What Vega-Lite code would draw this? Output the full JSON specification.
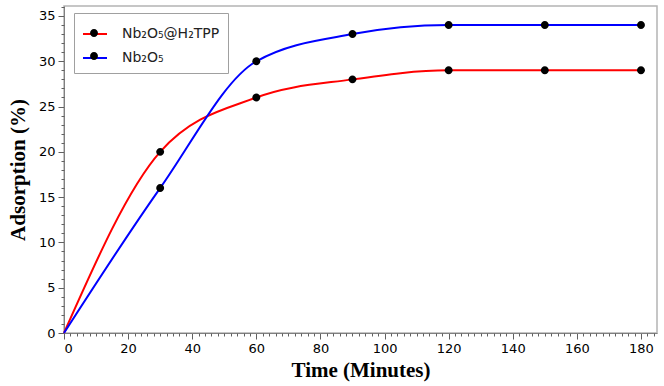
{
  "$schema": "https://vega.github.io/schema/vega-lite/v6.json",
  "width": 593,
  "height": 327,
  "autosize": {"type": "none"},
  "padding": {"left": 64, "top": 6, "right": 7, "bottom": 53},
  "background": "white",
  "config": {
    "view": {"stroke": "#b4b4b4", "strokeWidth": 1.5},
    "axis": {"grid": false, "ticks": true}
  },
  "data": {
    "values": [
      {"time": 0, "adsorption": 0, "series": "Nb₂O₅@H₂TPP"},
      {"time": 30, "adsorption": 20, "series": "Nb₂O₅@H₂TPP"},
      {"time": 60, "adsorption": 26, "series": "Nb₂O₅@H₂TPP"},
      {"time": 90, "adsorption": 28, "series": "Nb₂O₅@H₂TPP"},
      {"time": 120, "adsorption": 29, "series": "Nb₂O₅@H₂TPP"},
      {"time": 150, "adsorption": 29, "series": "Nb₂O₅@H₂TPP"},
      {"time": 180, "adsorption": 29, "series": "Nb₂O₅@H₂TPP"},
      {"time": 0, "adsorption": 0, "series": "Nb₂O₅"},
      {"time": 30, "adsorption": 16, "series": "Nb₂O₅"},
      {"time": 60, "adsorption": 30, "series": "Nb₂O₅"},
      {"time": 90, "adsorption": 33, "series": "Nb₂O₅"},
      {"time": 120, "adsorption": 34, "series": "Nb₂O₅"},
      {"time": 150, "adsorption": 34, "series": "Nb₂O₅"},
      {"time": 180, "adsorption": 34, "series": "Nb₂O₅"}
    ]
  },
  "resolve": {"axis": {"x": "independent", "y": "independent"}},
  "layer": [
    {
      "mark": {"type": "line", "interpolate": "monotone", "strokeWidth": 2},
      "encoding": {
        "x": {
          "field": "time",
          "type": "quantitative",
          "scale": {"domain": [0, 185], "nice": false},
          "axis": {
            "orient": "bottom",
            "title": "Time (Minutes)",
            "titleFont": "Liberation Serif",
            "titleFontWeight": "bold",
            "titleFontSize": 21,
            "titleColor": "black",
            "titlePadding": 4,
            "values": [0, 20, 40, 60, 80, 100, 120, 140, 160, 180],
            "ticks": true,
            "tickSize": 6,
            "tickWidth": 1,
            "tickColor": "#606060",
            "labelFont": "DejaVu Sans",
            "labelFontSize": 13,
            "labelColor": "black",
            "labelPadding": 3,
            "domainColor": "#808080"
          }
        },
        "y": {
          "field": "adsorption",
          "type": "quantitative",
          "scale": {"domain": [0, 36.1], "nice": false},
          "axis": {
            "orient": "left",
            "title": "Adsorption (%)",
            "titleFont": "Liberation Serif",
            "titleFontWeight": "bold",
            "titleFontSize": 21,
            "titleColor": "black",
            "titlePadding": 10,
            "values": [0, 5, 10, 15, 20, 25, 30, 35],
            "ticks": true,
            "tickSize": 6,
            "tickWidth": 1,
            "tickColor": "#606060",
            "labelFont": "DejaVu Sans",
            "labelFontSize": 13,
            "labelColor": "black",
            "labelPadding": 3,
            "domainColor": "#808080"
          }
        },
        "color": {
          "field": "series",
          "type": "nominal",
          "scale": {"domain": ["Nb₂O₅@H₂TPP", "Nb₂O₅"], "range": ["#ff0000", "#0000ff"]},
          "legend": {
            "orient": "none",
            "legendX": 10,
            "legendY": 7,
            "title": null,
            "symbolType": "stroke",
            "symbolSize": 576,
            "symbolStrokeWidth": 2,
            "labelFont": "DejaVu Sans",
            "labelFontSize": 14,
            "labelOffset": 14,
            "labelColor": "#222222",
            "padding": 8,
            "rowPadding": 4,
            "strokeColor": "#a0a0a0",
            "fillColor": "white"
          }
        }
      }
    },
    {
      "transform": [{"filter": "datum.time > 0"}],
      "mark": {"type": "point", "filled": true, "color": "black", "opacity": 1, "strokeWidth": 0, "size": 576},
      "encoding": {
        "x": {
          "field": "time",
          "type": "quantitative",
          "axis": {
            "orient": "bottom",
            "title": null,
            "labels": false,
            "domain": false,
            "ticks": true,
            "values": [2,4,6,8,10,12,14,16,18,22,24,26,28,30,32,34,36,38,42,44,46,48,50,52,54,56,58,62,64,66,68,70,72,74,76,78,82,84,86,88,90,92,94,96,98,102,104,106,108,110,112,114,116,118,122,124,126,128,130,132,134,136,138,142,144,146,148,150,152,154,156,158,162,164,166,168,170,172,174,176,178,182,184],
            "tickSize": 3,
            "tickWidth": 1,
            "tickColor": "#606060"
          }
        },
        "y": {
          "field": "adsorption",
          "type": "quantitative",
          "axis": {
            "orient": "left",
            "title": null,
            "labels": false,
            "domain": false,
            "ticks": true,
            "values": [1,2,3,4,6,7,8,9,11,12,13,14,16,17,18,19,21,22,23,24,26,27,28,29,31,32,33,34,36],
            "tickSize": 3,
            "tickWidth": 1,
            "tickColor": "#606060"
          }
        },
        "shape": {
          "field": "series",
          "type": "nominal",
          "sort": ["Nb₂O₅@H₂TPP", "Nb₂O₅"],
          "scale": {
            "range": ["M0,-0.33A0.33,0.33,0,1,1,0,0.33A0.33,0.33,0,1,1,0,-0.33Z", "M0,-0.33A0.33,0.33,0,1,1,0,0.33A0.33,0.33,0,1,1,0,-0.33Z"]
          },
          "legend": {
            "orient": "none",
            "legendX": 10,
            "legendY": 7,
            "title": null,
            "symbolSize": 576,
            "symbolFillColor": "black",
            "symbolStrokeWidth": 0,
            "symbolOpacity": 1,
            "labelFont": "DejaVu Sans",
            "labelFontSize": 14,
            "labelOffset": 14,
            "labelExpr": "''",
            "padding": 8,
            "rowPadding": 4
          }
        }
      }
    }
  ]
}
